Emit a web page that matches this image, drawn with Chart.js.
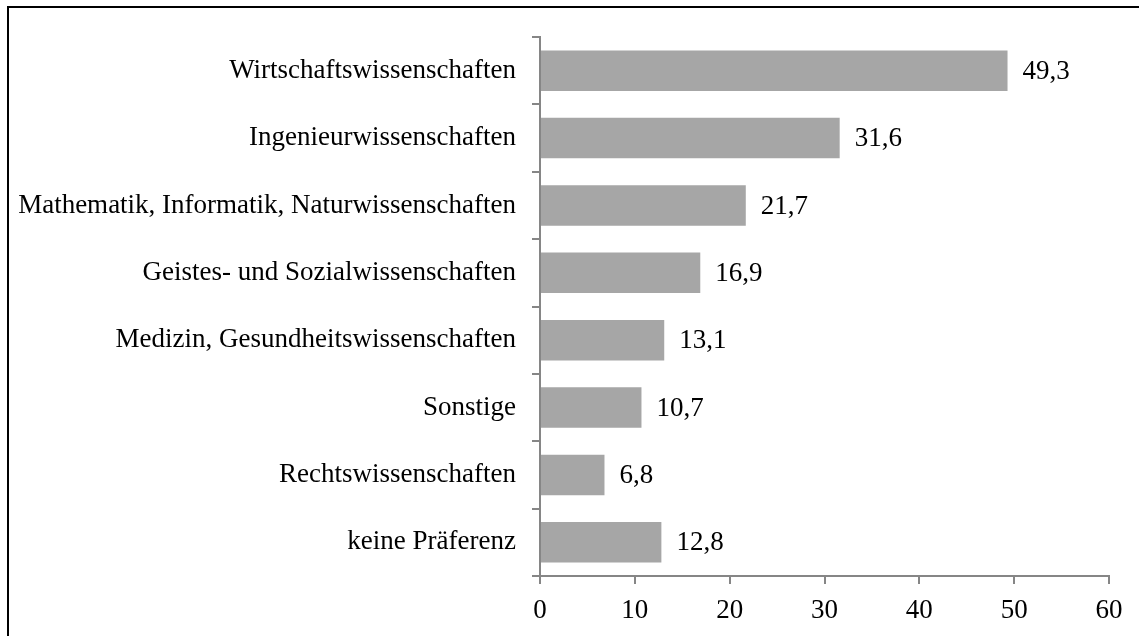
<!DOCTYPE html>
<html>
<head>
<meta charset="utf-8">
<script src="https://cdn.jsdelivr.net/npm/chart.js@4/dist/chart.umd.min.js"></script>
<style>
  html, body { margin: 0; padding: 0; background: #fff; overflow: hidden; }
  #wrap { position: relative; width: 1139px; height: 636px; overflow: hidden; }
  #frame { position: absolute; left: 7px; top: 6px; width: 2000px; height: 2000px; border: 2px solid #000; box-sizing: border-box; pointer-events: none; }
  canvas { position: absolute; left: 0; top: 0; }
</style>
</head>
<body>
<div id="wrap">
  <canvas id="c" width="1139" height="636"></canvas>
  <div id="frame"></div>
</div>
<script>
const categories = [
  "Wirtschaftswissenschaften",
  "Ingenieurwissenschaften",
  "Mathematik, Informatik, Naturwissenschaften",
  "Geistes- und Sozialwissenschaften",
  "Medizin, Gesundheitswissenschaften",
  "Sonstige",
  "Rechtswissenschaften",
  "keine Präferenz"
];
const values = [49.3, 31.6, 21.7, 16.9, 13.1, 10.7, 6.8, 12.8];
const xTicks = [0, 10, 20, 30, 40, 50, 60];

const FONT = "'Liberation Serif', 'Times New Roman', serif";
const AXIS = "#868686";

const valueLabels = {
  id: 'valueLabels',
  afterDatasetsDraw(chart) {
    const ctx = chart.ctx;
    const meta = chart.getDatasetMeta(0);
    ctx.save();
    ctx.font = "27px " + FONT;
    ctx.fillStyle = "#000";
    ctx.textAlign = "left";
    ctx.textBaseline = "middle";
    meta.data.forEach((bar, i) => {
      const txt = values[i].toFixed(1).replace('.', ',');
      ctx.fillText(txt, bar.x + 15, bar.y + 1);
    });
    ctx.restore();
  }
};

new Chart(document.getElementById('c'), {
  type: 'bar',
  data: {
    labels: categories,
    datasets: [{
      data: values,
      backgroundColor: '#a6a6a6',
      borderWidth: 0,
      barPercentage: 0.6,
      categoryPercentage: 1.0
    }]
  },
  options: {
    indexAxis: 'y',
    responsive: false,
    animation: false,
    layout: { padding: { left: 0, top: 37, right: 30, bottom: 0 } },
    plugins: { legend: { display: false }, tooltip: { enabled: false } },
    scales: {
      y: {
        type: 'category',
        offset: true,
        afterFit(scale) { scale.width = 540; },
        grid: { offset: true, drawOnChartArea: false, drawTicks: true, tickLength: 8, color: AXIS, lineWidth: 2 },
        border: { display: true, color: AXIS, width: 2 },
        ticks: { color: '#000', font: { family: FONT, size: 27 }, padding: 16 }
      },
      x: {
        type: 'linear',
        min: xTicks[0],
        max: xTicks[xTicks.length - 1],
        afterFit(scale) { scale.height = 60; },
        afterBuildTicks(scale) { scale.ticks = xTicks.map(v => ({ value: v })); },
        grid: { drawOnChartArea: false, drawTicks: true, tickLength: 8, color: AXIS, lineWidth: 2 },
        border: { display: true, color: AXIS, width: 2 },
        ticks: { color: '#000', font: { family: FONT, size: 27 }, padding: 11, maxRotation: 0 }
      }
    }
  },
  plugins: [valueLabels]
});
</script>
</body>
</html>
